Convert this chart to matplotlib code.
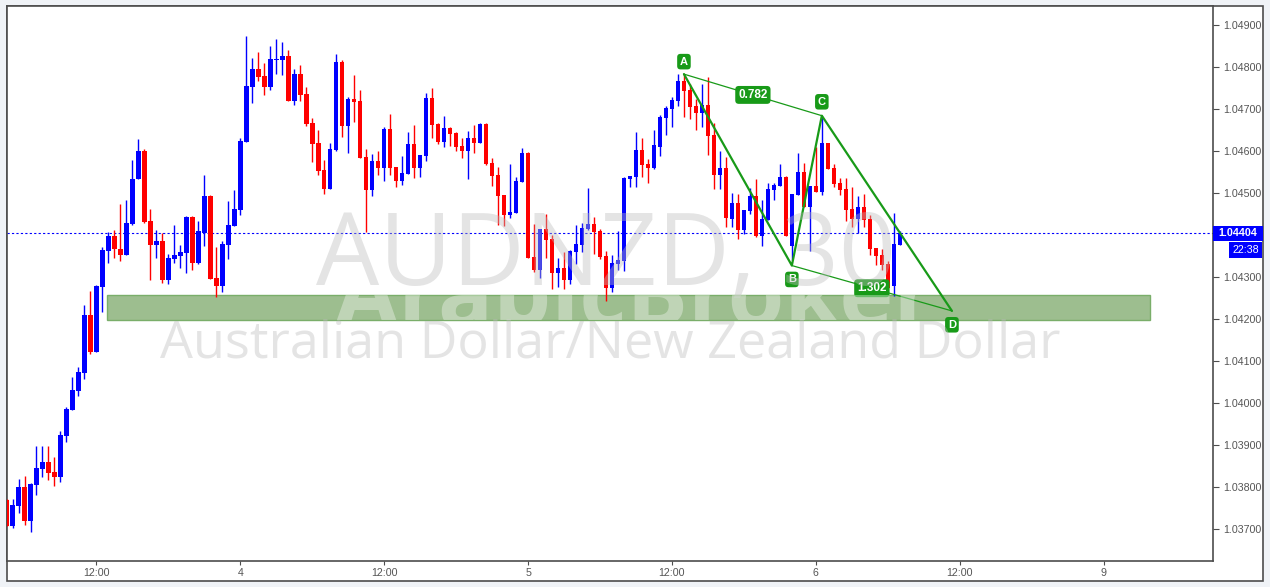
import matplotlib
matplotlib.use("Agg")
import matplotlib.pyplot as plt
from matplotlib.patches import Rectangle
from matplotlib.transforms import blended_transform_factory, Bbox, TransformedBbox

# AUDNZD, 30 minute candles
opens = [
    1.03769, 1.03707, 1.03755, 1.03800, 1.03719, 1.03805, 1.03843, 1.03859, 1.03835, 1.03824,
    1.03922, 1.03984, 1.04029, 1.04072, 1.04209, 1.04122, 1.04277, 1.04362, 1.04397, 1.04367,
    1.04353, 1.04427, 1.04532, 1.04600, 1.04433, 1.04377, 1.04385, 1.04293, 1.04343, 1.04350,
    1.04358, 1.04443, 1.04334, 1.04405, 1.04493, 1.04297, 1.04279, 1.04377, 1.04422, 1.04459,
    1.04622, 1.04753, 1.04795, 1.04779, 1.04753, 1.04817, 1.04817, 1.04826, 1.04720, 1.04783,
    1.04736, 1.04667, 1.04619, 1.04555, 1.04510, 1.04602, 1.04812, 1.04660, 1.04724, 1.04719,
    1.04586, 1.04508, 1.04576, 1.04560, 1.04652, 1.04562, 1.04529, 1.04546, 1.04617, 1.04560,
    1.04589, 1.04726, 1.04664, 1.04622, 1.04655, 1.04643, 1.04612, 1.04600, 1.04631, 1.04619,
    1.04664, 1.04571, 1.04543, 1.04495, 1.04448, 1.04453, 1.04526, 1.04595, 1.04348, 1.04317,
    1.04414, 1.04391, 1.04310, 1.04322, 1.04293, 1.04360, 1.04377, 1.04415, 1.04426, 1.04410,
    1.04350, 1.04274, 1.04331, 1.04339, 1.04534, 1.04539, 1.04603, 1.04570, 1.04560, 1.04610,
    1.04679, 1.04701, 1.04720, 1.04767, 1.04746, 1.04708, 1.04691, 1.04710, 1.04639, 1.04543,
    1.04560, 1.04439, 1.04477, 1.04412, 1.04458, 1.04493, 1.04398, 1.04436, 1.04508, 1.04517,
    1.04539, 1.04374, 1.04496, 1.04551, 1.04467, 1.04517, 1.04503, 1.04620, 1.04560, 1.04524,
    1.04510, 1.04462, 1.04439, 1.04467, 1.04439, 1.04370, 1.04353, 1.04331, 1.04279, 1.04377,
]
highs = [
    1.03771, 1.03771, 1.03819, 1.03826, 1.03810, 1.03898, 1.03898, 1.03896, 1.03872, 1.03933,
    1.03991, 1.04062, 1.04085, 1.04233, 1.04266, 1.04281, 1.04371, 1.04406, 1.04412, 1.04474,
    1.04483, 1.04578, 1.04628, 1.04605, 1.04462, 1.04412, 1.04405, 1.04355, 1.04424, 1.04376,
    1.04446, 1.04445, 1.04433, 1.04543, 1.04495, 1.04371, 1.04385, 1.04481, 1.04507, 1.04631,
    1.04874, 1.04821, 1.04836, 1.04810, 1.04850, 1.04867, 1.04860, 1.04840, 1.04795, 1.04805,
    1.04752, 1.04679, 1.04651, 1.04578, 1.04619, 1.04831, 1.04817, 1.04728, 1.04781, 1.04745,
    1.04605, 1.04593, 1.04600, 1.04657, 1.04688, 1.04562, 1.04588, 1.04645, 1.04662, 1.04590,
    1.04738, 1.04750, 1.04667, 1.04683, 1.04657, 1.04645, 1.04631, 1.04648, 1.04662, 1.04667,
    1.04666, 1.04583, 1.04562, 1.04495, 1.04569, 1.04538, 1.04607, 1.04597, 1.04426, 1.04414,
    1.04450, 1.04400, 1.04346, 1.04360, 1.04365, 1.04424, 1.04428, 1.04512, 1.04443, 1.04415,
    1.04362, 1.04353, 1.04410, 1.04539, 1.04541, 1.04646, 1.04632, 1.04582, 1.04651, 1.04686,
    1.04708, 1.04729, 1.04783, 1.04783, 1.04760, 1.04724, 1.04759, 1.04776, 1.04667, 1.04601,
    1.04586, 1.04501, 1.04498, 1.04460, 1.04512, 1.04532, 1.04482, 1.04524, 1.04524, 1.04570,
    1.04541, 1.04498, 1.04596, 1.04572, 1.04517, 1.04610, 1.04684, 1.04620, 1.04570, 1.04536,
    1.04536, 1.04515, 1.04493, 1.04498, 1.04448, 1.04370, 1.04367, 1.04339, 1.04453, 1.04410,
]
lows = [
    1.03706, 1.03701, 1.03738, 1.03710, 1.03693, 1.03781, 1.03824, 1.03815, 1.03803, 1.03812,
    1.03907, 1.03984, 1.04017, 1.04057, 1.04116, 1.04122, 1.04217, 1.04332, 1.04346, 1.04339,
    1.04353, 1.04424, 1.04532, 1.04428, 1.04293, 1.04346, 1.04286, 1.04284, 1.04334, 1.04320,
    1.04310, 1.04317, 1.04331, 1.04374, 1.04296, 1.04253, 1.04264, 1.04343, 1.04422, 1.04447,
    1.04622, 1.04715, 1.04767, 1.04734, 1.04746, 1.04784, 1.04782, 1.04720, 1.04710, 1.04720,
    1.04660, 1.04574, 1.04543, 1.04498, 1.04510, 1.04600, 1.04634, 1.04595, 1.04670, 1.04584,
    1.04408, 1.04493, 1.04543, 1.04529, 1.04543, 1.04515, 1.04520, 1.04546, 1.04536, 1.04539,
    1.04577, 1.04632, 1.04617, 1.04609, 1.04612, 1.04600, 1.04583, 1.04534, 1.04595, 1.04619,
    1.04567, 1.04517, 1.04424, 1.04422, 1.04441, 1.04453, 1.04526, 1.04346, 1.04312, 1.04298,
    1.04346, 1.04272, 1.04277, 1.04270, 1.04284, 1.04331, 1.04360, 1.04412, 1.04355, 1.04343,
    1.04243, 1.04265, 1.04316, 1.04315, 1.04515, 1.04515, 1.04539, 1.04524, 1.04558, 1.04589,
    1.04639, 1.04658, 1.04708, 1.04682, 1.04677, 1.04651, 1.04658, 1.04591, 1.04510, 1.04510,
    1.04420, 1.04420, 1.04391, 1.04403, 1.04451, 1.04396, 1.04374, 1.04436, 1.04484, 1.04517,
    1.04398, 1.04340, 1.04496, 1.04467, 1.04362, 1.04503, 1.04496, 1.04558, 1.04515, 1.04496,
    1.04434, 1.04420, 1.04405, 1.04420, 1.04353, 1.04329, 1.04317, 1.04270, 1.04255, 1.04377,
]
closes = [
    1.03707, 1.03757, 1.03800, 1.03719, 1.03807, 1.03845, 1.03859, 1.03834, 1.03824, 1.03923,
    1.03985, 1.04031, 1.04073, 1.04209, 1.04122, 1.04278, 1.04364, 1.04397, 1.04366, 1.04353,
    1.04429, 1.04533, 1.04600, 1.04431, 1.04377, 1.04385, 1.04293, 1.04346, 1.04352, 1.04359,
    1.04443, 1.04334, 1.04409, 1.04493, 1.04296, 1.04279, 1.04378, 1.04424, 1.04462, 1.04624,
    1.04755, 1.04795, 1.04777, 1.04753, 1.04819, 1.04819, 1.04826, 1.04720, 1.04783, 1.04734,
    1.04665, 1.04617, 1.04553, 1.04510, 1.04605, 1.04812, 1.04660, 1.04724, 1.04717, 1.04584,
    1.04508, 1.04576, 1.04560, 1.04652, 1.04560, 1.04529, 1.04547, 1.04617, 1.04560, 1.04590,
    1.04726, 1.04662, 1.04622, 1.04655, 1.04640, 1.04609, 1.04600, 1.04631, 1.04619, 1.04664,
    1.04569, 1.04541, 1.04493, 1.04448, 1.04455, 1.04528, 1.04595, 1.04346, 1.04317, 1.04414,
    1.04389, 1.04310, 1.04322, 1.04293, 1.04362, 1.04379, 1.04417, 1.04426, 1.04408, 1.04348,
    1.04274, 1.04334, 1.04341, 1.04536, 1.04541, 1.04603, 1.04567, 1.04560, 1.04613, 1.04682,
    1.04703, 1.04722, 1.04767, 1.04744, 1.04705, 1.04691, 1.04710, 1.04636, 1.04543, 1.04560,
    1.04441, 1.04477, 1.04412, 1.04460, 1.04493, 1.04398, 1.04439, 1.04510, 1.04520, 1.04539,
    1.04398, 1.04498, 1.04551, 1.04467, 1.04517, 1.04503, 1.04620, 1.04558, 1.04522, 1.04508,
    1.04460, 1.04439, 1.04467, 1.04436, 1.04367, 1.04350, 1.04329, 1.04274, 1.04379, 1.04404,
]

last_price = 1.04404
last_time = "22:38"

tick_pos = [15, 39, 63, 87, 111, 135, 159, 183]
tick_labels = ["12:00", "4", "12:00", "5", "12:00", "6", "12:00", "9"]
price_ticks = [1.037, 1.038, 1.039, 1.040, 1.041, 1.042, 1.043, 1.045, 1.046, 1.047, 1.048, 1.049]

# demand zone and ABCD pattern
zone_x = [16.8, 190.7]
zone_y = [1.04197, 1.04257]
pat_names = ["A", "B", "C", "D"]
pat_x = [113, 131, 136, 157.7]
pat_y = [1.04783, 1.04327, 1.04684, 1.04219]
ratio_ac = "0.782"
ratio_bd = "1.302"

UP = "#0000ff"
DOWN = "#ff0000"
GREEN = "#189a18"
FRAME = "#4d4d4d"
TXT = "#555555"

W, H = 1270, 587
fig = plt.figure(figsize=(W / 100, H / 100), dpi=100)
fig.patch.set_facecolor("#f0f3f7")
plt.rcParams["font.family"] = ["Liberation Sans", "DejaVu Sans"]

# outer frame
fig.add_artist(Rectangle((7 / W, 1 - 581 / H), 1256 / W, 575 / H, transform=fig.transFigure,
                         facecolor="white", edgecolor=FRAME, lw=1.2, zorder=0))

ax = fig.add_axes([7 / W, 26 / H, 1206 / W, 555 / H])
ax.set_facecolor("white")
for s in ax.spines.values():
    s.set_color(FRAME)
    s.set_linewidth(1.2)

ax.set_xlim(0.08, 201.25)
ax.set_ylim(1.036232, 1.049453)

# candles
for i in range(len(opens)):
    o, h, l, c = opens[i], highs[i], lows[i], closes[i]
    col = UP if c >= o else DOWN
    ax.vlines(i, l, h, color=col, lw=1.0, zorder=3)
    ax.bar(i, max(abs(c - o), 0.000012), bottom=min(o, c), width=0.75, color=col,
           linewidth=0, zorder=3)

ax.axhline(last_price, color=UP, lw=0.8, ls=(0, (2, 2)), zorder=2.5)

# demand zone
zone = Rectangle((zone_x[0], zone_y[0]), zone_x[1] - zone_x[0], zone_y[1] - zone_y[0],
                 facecolor="#9dbe8f", edgecolor="#7aae6a", lw=1, zorder=1.5)
ax.add_patch(zone)

# ABCD pattern
ax.plot(pat_x, pat_y, color=GREEN, lw=1.6, zorder=4, solid_capstyle="round")
ax.plot([pat_x[0], pat_x[2]], [pat_y[0], pat_y[2]], color=GREEN, lw=0.9, zorder=4)
ax.plot([pat_x[1], pat_x[3]], [pat_y[1], pat_y[3]], color=GREEN, lw=0.9, zorder=4)

offsets = [9, -10, 10, -10]
for name, x, y, dy in zip(pat_names, pat_x, pat_y, offsets):
    ax.annotate(name, (x, y), xytext=(0, dy), textcoords="offset points", ha="center",
                va="center", color="white", fontsize=8, fontweight="bold", zorder=6,
                bbox=dict(boxstyle="round,pad=0.25,rounding_size=0.3", fc=GREEN, ec="none"))

for txt, a, b in [(ratio_ac, 0, 2), (ratio_bd, 1, 3)]:
    mx = (pat_x[a] + pat_x[b]) / 2
    my = (pat_y[a] + pat_y[b]) / 2
    ax.text(mx, my, txt, ha="center", va="center", color="white", fontsize=8.5,
            fontweight="bold", zorder=6,
            bbox=dict(boxstyle="round,pad=0.25,rounding_size=0.3", fc=GREEN, ec="none"))

# watermarks drawn on top, semi transparent
ax.text(0.4967, 0.4973, "AUDNZD, 30", transform=ax.transAxes, ha="center", va="baseline",
        fontsize=72, family="Open Sans", color="#bcbcbc", alpha=0.4, zorder=10)
ax.text(0.5, 0.3658, "Australian Dollar/New Zealand Dollar", transform=ax.transAxes,
        ha="center", va="baseline", fontsize=37.5, family="Open Sans", color="#bcbcbc",
        alpha=0.4, zorder=10)
# broker name only shows up where it crosses the green zone (clip box, Agg ignores
# clip paths on text)
brand = ax.text(0.5207, 0.4234, "ArabicBroker", transform=ax.transAxes, ha="center",
                va="baseline", fontsize=66, family="Open Sans", fontweight="bold",
                color="white", alpha=0.35, zorder=10)
brand.set_clip_box(TransformedBbox(Bbox([[zone_x[0], zone_y[0]], [zone_x[1], zone_y[1]]]),
                                   ax.transData))
brand.set_clip_on(True)

# axes ticks
ax.yaxis.tick_right()
ax.set_yticks(price_ticks)
ax.set_yticklabels(["%.5f" % p for p in price_ticks])
ax.tick_params(axis="y", direction="out", length=4, color=FRAME, labelsize=7.7,
               labelcolor=TXT, pad=3)
ax.set_xticks(tick_pos)
ax.set_xticklabels(tick_labels)
ax.tick_params(axis="x", direction="out", length=3, color=FRAME, labelsize=7.7,
               labelcolor=TXT, pad=2)

# current price / countdown labels on the price axis
trans = blended_transform_factory(ax.transAxes, ax.transData)
ax.add_patch(Rectangle((1.0, last_price - 0.000178), 50 / 1206, 0.000357, transform=trans,
                       facecolor=UP, edgecolor="none", clip_on=False, zorder=8))
ax.text(1.0 + 25 / 1206, last_price, "%.5f" % last_price, transform=trans, ha="center",
        va="center", color="white", fontsize=7.7, fontweight="bold", clip_on=False, zorder=9)
ax.add_patch(Rectangle((1.0133, 1.043457), 0.0274, 0.000367, transform=trans,
                       facecolor=UP, edgecolor="none", clip_on=False, zorder=8))
ax.text(1.0269, 1.04364, last_time, transform=trans, ha="center", va="center",
        color="white", fontsize=7.7, clip_on=False, zorder=9)

fig.savefig("out.png", dpi=100)
